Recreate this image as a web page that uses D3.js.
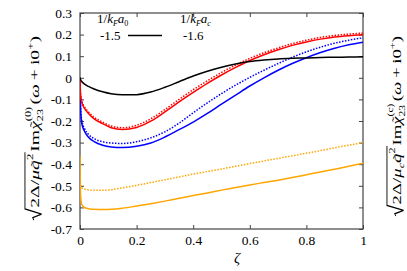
<!DOCTYPE html>
<html><head><meta charset="utf-8">
<script src="https://cdn.jsdelivr.net/npm/d3@7/dist/d3.min.js"></script>
<style>
html,body{margin:0;padding:0;background:#fff;}
svg{display:block;}
</style></head><body>
<svg id="c" width="407" height="271" font-family="Liberation Serif, serif"></svg>
<script>
// ---------- data ----------
const zeta = [0, 0.002, 0.006, 0.015, 0.03, 0.05, 0.08, 0.11, 0.15, 0.2, 0.25, 0.3, 0.35, 0.4, 0.45, 0.5, 0.55, 0.6, 0.65, 0.7, 0.75, 0.8, 0.85, 0.9, 0.95, 1.0];
const blackSolid = [0, -0.008, -0.017, -0.028, -0.04, -0.052, -0.065, -0.074, -0.079, -0.078, -0.066, -0.044, -0.018, 0.008, 0.03, 0.049, 0.064, 0.075, 0.082, 0.087, 0.09, 0.092, 0.094, 0.095, 0.096, 0.097];
const redSolid = [0, -0.08, -0.11, -0.14, -0.165, -0.19, -0.212, -0.231, -0.239, -0.23, -0.201, -0.158, -0.112, -0.068, -0.026, 0.013, 0.048, 0.08, 0.107, 0.13, 0.15, 0.166, 0.179, 0.189, 0.195, 0.199];
const redDotted = [0, -0.075, -0.105, -0.133, -0.158, -0.183, -0.205, -0.223, -0.231, -0.22, -0.19, -0.147, -0.1, -0.055, -0.014, 0.025, 0.059, 0.09, 0.116, 0.138, 0.158, 0.174, 0.187, 0.196, 0.202, 0.207];
const blueSolid = [0, -0.14, -0.21, -0.245, -0.275, -0.295, -0.312, -0.32, -0.323, -0.317, -0.302, -0.274, -0.24, -0.205, -0.165, -0.122, -0.08, -0.038, 0.0, 0.035, 0.066, 0.093, 0.117, 0.137, 0.153, 0.165];
const blueDotted = [0, -0.13, -0.195, -0.232, -0.262, -0.282, -0.296, -0.302, -0.304, -0.296, -0.278, -0.25, -0.21, -0.162, -0.116, -0.073, -0.034, 0.002, 0.035, 0.066, 0.095, 0.12, 0.142, 0.16, 0.174, 0.185];
const orangeSolid = [-0.36, -0.54, -0.585, -0.6, -0.606, -0.609, -0.61, -0.609, -0.604, -0.594, -0.583, -0.571, -0.558, -0.545, -0.533, -0.52, -0.508, -0.496, -0.485, -0.474, -0.462, -0.449, -0.436, -0.423, -0.41, -0.396];
const orangeDotted = [-0.44, -0.495, -0.508, -0.515, -0.519, -0.521, -0.521, -0.518, -0.51, -0.498, -0.485, -0.472, -0.459, -0.446, -0.434, -0.422, -0.41, -0.397, -0.385, -0.373, -0.361, -0.349, -0.337, -0.324, -0.312, -0.3];

const xTicks = [0, 0.2, 0.4, 0.6, 0.8, 1];
const xTickLabels = ["0", "0.2", "0.4", "0.6", "0.8", "1"];
const yTicks = [0.3, 0.2, 0.1, 0, -0.1, -0.2, -0.3, -0.4, -0.5, -0.6, -0.7];
const yTickLabels = ["0.3", "0.2", "0.1", "0", "-0.1", "-0.2", "-0.3", "-0.4", "-0.5", "-0.6", "-0.7"];
const legendValues = ["-1.5", "-1.6"];

const series = [
  {v: orangeSolid, c: "#ffa500", dash: null},
  {v: orangeDotted, c: "#ffa500", dash: "1.5,1.5"},
  {v: blueSolid, c: "#0000ff", dash: null},
  {v: blueDotted, c: "#0000ff", dash: "1.5,1.5"},
  {v: redSolid, c: "#ff0000", dash: null},
  {v: redDotted, c: "#ff0000", dash: "1.5,1.5"},
  {v: blackSolid, c: "#000000", dash: null}
];

// ---------- layout ----------
const FONT = "Liberation Serif, serif";
const svg = d3.select("#c");
const L = 80, R = 363, T = 13, B = 229;
const x = d3.scaleLinear().domain([0, 1]).range([L, R]);
const y = d3.scaleLinear().domain([-0.7, 0.3]).range([B, T]);
const FS = 13.5;
const frameColor = "#444";

svg.append("clipPath").attr("id", "clip").append("rect")
  .attr("x", L).attr("y", T).attr("width", R - L).attr("height", B - T);

function styleAxis(g, labels) {
  g.attr("font-family", FONT).attr("font-size", FS);
  g.select(".domain").remove();
  g.selectAll(".tick line").attr("stroke", frameColor);
  g.selectAll("text").attr("fill", "#000");
  if (!labels) g.selectAll("text").remove();
}
svg.append("g").attr("transform", `translate(0,${B})`)
  .call(d3.axisBottom(x).tickValues(xTicks).tickSize(-4).tickPadding(6).tickFormat((d, i) => xTickLabels[i]))
  .call(g => styleAxis(g, true));
svg.append("g").attr("transform", `translate(0,${T})`)
  .call(d3.axisTop(x).tickValues(xTicks).tickSize(-4))
  .call(g => styleAxis(g, false));
svg.append("g").attr("transform", `translate(${L},0)`)
  .call(d3.axisLeft(y).tickValues(yTicks).tickSize(-4).tickPadding(8).tickFormat((d, i) => yTickLabels[i]))
  .call(g => styleAxis(g, true));
svg.append("g").attr("transform", `translate(${R},0)`)
  .call(d3.axisRight(y).tickValues(yTicks).tickSize(-4))
  .call(g => styleAxis(g, false));

svg.append("rect").attr("x", L).attr("y", T).attr("width", R - L).attr("height", B - T)
  .attr("fill", "none").attr("stroke", frameColor).attr("stroke-width", 1.2);

const line = d3.line().x(d => x(d[0])).y(d => y(d[1])).curve(d3.curveMonotoneX);
const plot = svg.append("g").attr("clip-path", "url(#clip)");
series.forEach(s => {
  plot.append("path")
    .attr("d", line(zeta.map((z, i) => [z, s.v[i]])))
    .attr("fill", "none").attr("stroke", s.c).attr("stroke-width", 1.5)
    .attr("stroke-dasharray", s.dash);
});

svg.append("text").attr("x", 237).attr("y", 263).attr("text-anchor", "middle")
  .attr("font-family", FONT).attr("font-size", 15).attr("font-style", "italic").text("ζ");

// ---------- math text helper: one <text> with positioned tspans ----------
function mathText(g, s, build) {
  const st = {x: 0};
  const pieces = [];
  const tmp = g.append("text").attr("font-family", FONT);
  function put(t, o) {
    o = o || {};
    const size = (o.sz || 1) * s;
    tmp.attr("font-size", size).attr("font-style", o.it ? "italic" : "normal").text(t);
    const w = tmp.node().getComputedTextLength();
    const x0 = st.x;
    pieces.push({t, x: x0, y: (o.dy || 0) * s, size, it: o.it});
    if (!o.noadv) st.x += w;
    return {x0, w};
  }
  function tilde(p, up) {
    const size = 0.85 * s;
    tmp.attr("font-size", size).attr("font-style", "normal").text("˜");
    const w = tmp.node().getComputedTextLength();
    pieces.push({t: "˜", x: p.x0 + p.w / 2 + 0.06 * s - w / 2, y: -up * s, size, it: false});
  }
  build(put, tilde, st);
  tmp.remove();
  const txt = g.append("text").attr("font-family", FONT);
  pieces.forEach(p => {
    txt.append("tspan").attr("x", p.x).attr("y", p.y).attr("font-size", p.size)
      .attr("font-style", p.it ? "italic" : "normal").text(p.t);
  });
  return st.x;
}

// legend
function legHead(x0, sub, subIt) {
  const g = svg.append("g").attr("transform", `translate(${x0},23)`);
  mathText(g, 13, (put) => {
    put("1/"); put("k", {it: 1}); put("F", {it: 1, sz: 0.62, dy: 0.2}); put("a", {it: 1}); put(sub, {it: subIt, sz: 0.62, dy: 0.2});
  });
}
legHead(97, "0", 0);
legHead(180, "c", 1);
svg.append("text").attr("x", 100).attr("y", 40).attr("font-family", FONT).attr("font-size", 13).text(legendValues[0]);
svg.append("text").attr("x", 183).attr("y", 40).attr("font-family", FONT).attr("font-size", 13).text(legendValues[1]);
svg.append("line").attr("x1", 128).attr("x2", 162).attr("y1", 35.5).attr("y2", 35.5)
  .attr("stroke", "#000").attr("stroke-width", 1.5);

// y labels
function yLabel(cx, cy, target, right) {
  const s = 13;
  const g = svg.append("g");
  const w = mathText(g, s, (put, tilde, st) => {
    const r0 = st.x;
    st.x += 0.62 * s;
    put("2Δ/");
    put("μ", {it: 1});
    if (right) put("c", {it: 1, sz: 0.65, dy: 0.25});
    const q = put("q", {it: 1});
    tilde(q, 0.02);
    put("2", {sz: 0.65, dy: -0.45});
    const c1 = st.x + 0.08 * s;
    g.append("path")
      .attr("d", `M${r0},${-0.4 * s} L${r0 + 0.12 * s},${-0.48 * s} L${r0 + 0.3 * s},${0.2 * s} L${r0 + 0.56 * s},${-1.08 * s} L${c1},${-1.08 * s}`)
      .attr("fill", "none").attr("stroke", "#000").attr("stroke-width", 0.9);
    st.x += 0.1 * s;
    put("Im");
    const ch = put("χ", {it: 1});
    tilde(ch, 0.05);
    const a = put("23", {sz: 0.62, dy: 0.3, noadv: 1});
    const b = put(right ? "(c)" : "(0)", {sz: 0.62, dy: -0.6, noadv: 1});
    st.x += Math.max(a.w, b.w) + 0.12 * s;
    put("(");
    put("ω", {it: 1});
    st.x += 0.2 * s;
    put("+");
    st.x += 0.2 * s;
    put("i0");
    put("+", {sz: 0.65, dy: -0.45});
    put(")");
  });
  const k = target / w;
  g.attr("transform", `translate(${cx},${cy + target / 2}) rotate(-90) scale(${k},1)`);
}
yLabel(39, 128, 184, false);
yLabel(401, 126, 180, true);
</script>
</body></html>
